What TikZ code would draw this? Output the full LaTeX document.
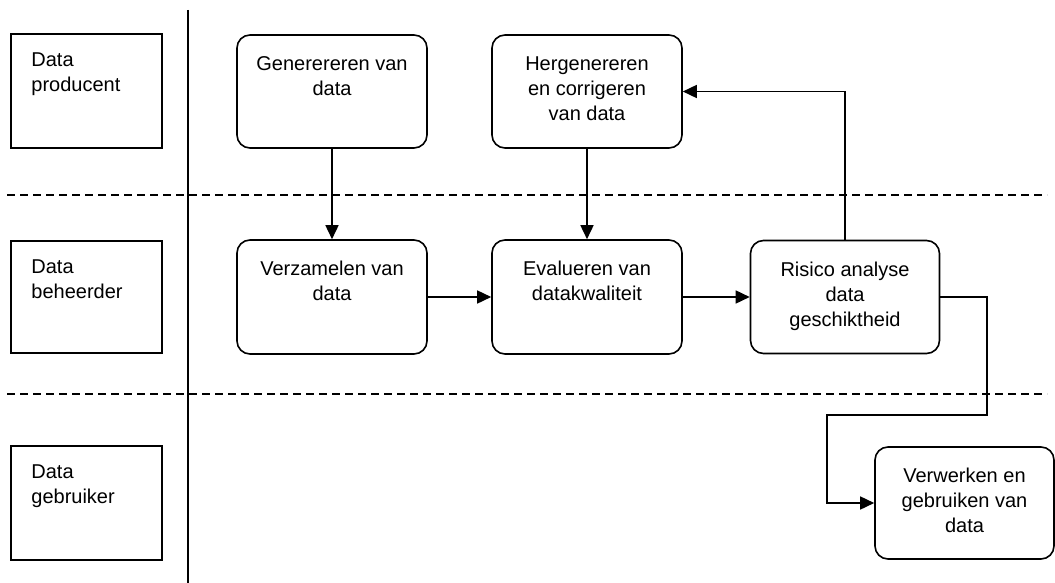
\documentclass[tikz,border=0pt]{standalone}
\usepackage{fontspec}
\setmainfont{Liberation Sans}
\usetikzlibrary{arrows.meta}
\begin{document}
\begin{tikzpicture}[x=1pt,y=-1pt,
  every node/.style={font=\fontsize{20}{25}\selectfont},
  lw/.style={line width=1.6pt},
  lanebox/.style={draw,lw,minimum width=151pt,inner sep=0pt,
    label={[anchor=north west,inner sep=0pt,align=left,xshift=21pt,yshift=-19pt]north west:#1}},
  procbox/.style={draw,lw,rounded corners=13pt,inner sep=0pt,
    label={[anchor=north,inner sep=0pt,align=center,yshift=-22pt]north:#1}},
  arr/.style={lw,-{Triangle[length=14pt,width=13pt]}},
  sep/.style={lw,dash pattern=on 8pt off 5pt},
]
\useasboundingbox (0,0) rectangle (1055,583);
% lanes
\node[lanebox={Data\\producent},minimum height=114pt] (lp) at (86.5,91) {};
\node[lanebox={Data\\beheerder},minimum height=112pt] (lb) at (86.5,297) {};
\node[lanebox={Data\\gebruiker},minimum height=114pt] (lg) at (86.5,503) {};
\coordinate (vtop) at (188,10);
\coordinate (vbot) at (188,583);
\draw[lw] (vtop) -- (vbot);
\coordinate (d1a) at (7,195);
\coordinate (d1b) at (1047,195);
\coordinate (d2a) at (7,394);
\coordinate (d2b) at (1047,394);
\draw[sep] (d1a) -- (d1b);
\draw[sep] (d2a) -- (d2b);
% process boxes
\node[procbox={Generereren van\\data},minimum width=190pt,minimum height=113pt] (gen) at (332,91.5) {};
\node[procbox={Hergenereren\\en corrigeren\\van data},minimum width=190pt,minimum height=113pt] (her) at (587,91.5) {};
\node[procbox={Verzamelen van\\data},minimum width=190pt,minimum height=114pt] (ver) at (332,297) {};
\node[procbox={Evalueren van\\datakwaliteit},minimum width=190pt,minimum height=114pt] (eva) at (587,297) {};
\node[procbox={Risico analyse\\data\\geschiktheid},minimum width=189pt,minimum height=113pt] (ris) at (845,297) {};
\node[procbox={Verwerken en\\gebruiken van\\data},minimum width=179pt,minimum height=112pt] (vw) at (964.5,503) {};
% connectors
\draw[arr] (gen) -- (ver);
\draw[arr] (her) -- (eva);
\draw[arr] (ver) -- (eva);
\draw[arr] (eva) -- (ris);
\draw[arr] (ris.north) |- (her.east);
\coordinate (r1) at (987,415);
\coordinate (r2) at (827,415);
\draw[arr] (ris.east) -| (r1) -- (r2) |- (vw.west);
\end{tikzpicture}
\end{document}
